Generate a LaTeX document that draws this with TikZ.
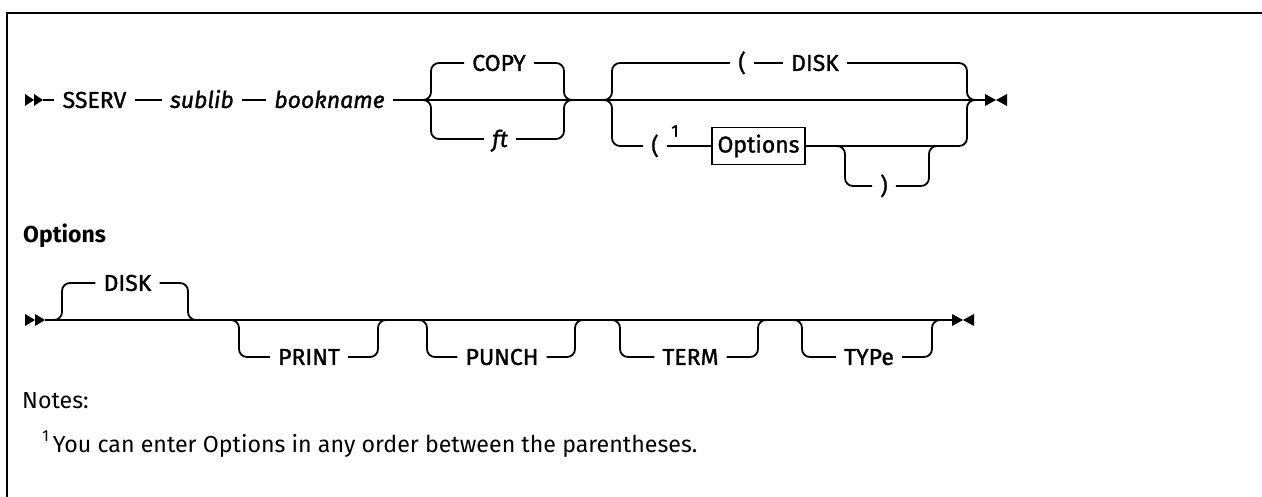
\documentclass[tikz,border=0pt]{standalone}
\usepackage{fontspec}
\setmainfont{Fira Sans}
\newfontfamily\medfam{Fira Sans}[FakeBold=1.3]
\newcommand{\lblfont}{\medfam\fontsize{23}{27}\selectfont}
\newcommand{\notefont}{\fontsize{23.2}{27}\selectfont}
\begin{document}
\begin{tikzpicture}[x=1pt,y=-1pt,
  ln/.style={line width=1.8pt},
  rr/.style={line width=1.8pt, rounded corners=8pt},
  lbl/.style={font=\lblfont, inner xsep=8pt, inner ysep=0pt, text height=15.8pt, text depth=0pt},
  var/.style={lbl, font=\lblfont\itshape},
  optbox/.style={draw, line width=1.8pt, minimum width=93pt, minimum height=37pt, inner sep=0pt, font=\lblfont}]
\useasboundingbox (0,0) rectangle (1262,497);
% frame
\draw[line width=2.5pt] (7,497) -- (7,13) -- (1262,13);

% ---------- Row 1 ----------
\fill (25,94) -- (34,100) -- (25,106) -- cycle;
\fill (34,94) -- (43,100) -- (34,106) -- cycle;
\coordinate (s1) at (43,100);
\coordinate (e1) at (985,100);
\node[lbl] (sserv) at (94.5,100) {SSERV};
\node[var] (sublib) at (202,100) {sublib};
\node[var] (book) at (329.5,100) {bookname};
\node[lbl] (copy) at (499,63) {COPY};
\node[var] (ft) at (500,139) {ft};
\node[lbl] (lpu) at (742,63) {(};
\node[lbl] (disk) at (815,63) {DISK};
\node[lbl] (lpl) at (655,146) {(};
\node[font=\medfam\fontsize{17}{17}\selectfont, inner sep=0pt] (sup1) at (675,131) {1};
\node[optbox] (opt) at (758.5,146) {Options};
\node[lbl] (rp) at (884,186) {)};

\draw[ln] (s1) -- (sserv);
\draw[ln] (sserv) -- (sublib);
\draw[ln] (sublib) -- (book);
\draw[ln] (book.east) -- (e1);
% brace 1
\draw[rr] (415,100) -- (431,100) -- (431,63) -- (copy.west);
\draw[rr] (copy.east) -- (564,63) -- (564,100) -- (580,100);
\draw[rr] (415,100) -- (431,100) -- (431,139) -- (ft.west);
\draw[rr] (ft.east) -- (564,139) -- (564,100) -- (580,100);
% brace 2
\draw[rr] (596,100) -- (612,100) -- (612,63) -- (lpu.west);
\draw[ln] (lpu) -- (disk);
\draw[rr] (disk.east) -- (967,63) -- (967,100) -- (980,100);
\draw[rr] (596,100) -- (612,100) -- (612,146) -- (lpl.west);
\draw[ln] (lpl.east) -- (opt.west);
\draw[rr] (opt.east) -- (967,146) -- (967,100) -- (980,100);
\draw[rr] (837,146) -- (845,146) -- (845,186) -- (rp.west);
\draw[rr] (rp.east) -- (929,186) -- (929,146) -- (940,146);
% end
\fill (985,94) -- (996,100) -- (985,106) -- cycle;
\fill (1007,94) -- (996,100) -- (1007,106) -- cycle;

% ---------- Options ----------
\node[font=\fontsize{23}{27}\selectfont\bfseries, anchor=base west, inner sep=0pt] (optlbl) at (23,243) {Options};
\fill (25,314) -- (35,320) -- (25,326) -- cycle;
\fill (35,314) -- (45,320) -- (35,326) -- cycle;
\coordinate (s2) at (45,320);
\coordinate (e2) at (952,320);
\draw[ln] (s2) -- (e2);
\node[lbl] (d2) at (127.5,283) {DISK};
\draw[rr] (45,320) -- (62,320) -- (62,283) -- (d2.west);
\draw[rr] (d2.east) -- (188,283) -- (188,320) -- (200,320);
\node[lbl] (pr) at (309,357) {PRINT};
\draw[rr] (228,320) -- (239,320) -- (239,357) -- (pr.west);
\draw[rr] (pr.east) -- (378,357) -- (378,320) -- (390,320);
\node[lbl] (pu) at (502,357) {PUNCH};
\draw[rr] (416,320) -- (427,320) -- (427,357) -- (pu.west);
\draw[rr] (pu.east) -- (575,357) -- (575,320) -- (587,320);
\node[lbl] (te) at (690.5,357) {TERM};
\draw[rr] (609,320) -- (620,320) -- (620,357) -- (te.west);
\draw[rr] (te.east) -- (758,357) -- (758,320) -- (770,320);
\node[lbl] (ty) at (869,357) {TYPe};
\draw[rr] (791,320) -- (802,320) -- (802,357) -- (ty.west);
\draw[rr] (ty.east) -- (932,357) -- (932,320) -- (944,320);
\fill (952,314) -- (963,320) -- (952,326) -- cycle;
\fill (974,314) -- (963,320) -- (974,326) -- cycle;

% ---------- Notes ----------
\node[font=\notefont, anchor=west, inner sep=0pt] (notes) at (22,401) {Notes:};
\node[font=\notefont, anchor=west, inner sep=0pt] (fn) at (42,444) {\raisebox{0.45em}{\fontsize{16}{16}\selectfont 1}\,You can enter Options in any order between the parentheses.};
\end{tikzpicture}
\end{document}
